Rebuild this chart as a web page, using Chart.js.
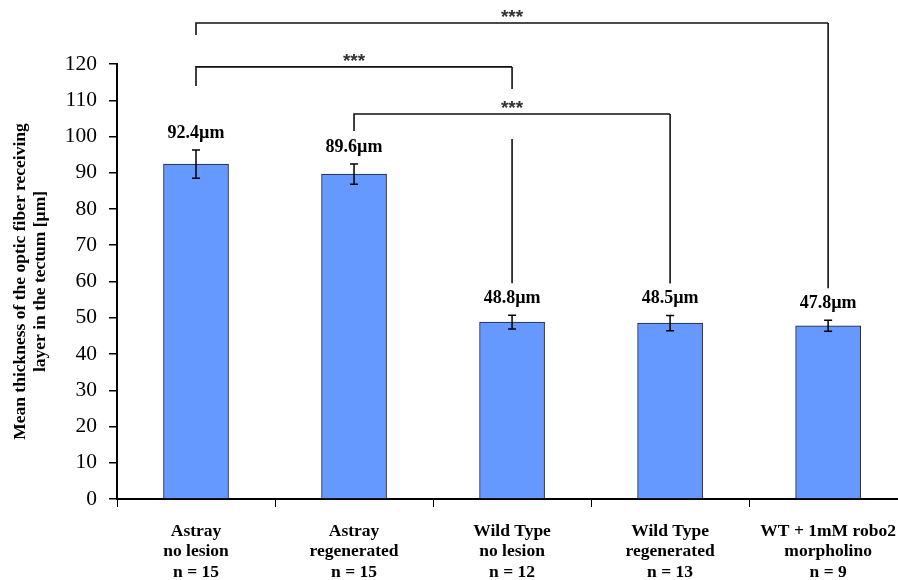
<!DOCTYPE html>
<html>
<head>
<meta charset="utf-8">
<script src="https://cdn.jsdelivr.net/npm/chart.js@4/dist/chart.umd.min.js"></script>
<style>
  html, body { margin: 0; padding: 0; background: #fff; overflow: hidden; width: 898px; height: 580px; }
  canvas { display: block; }
</style>
</head>
<body>
<canvas id="chart" width="910" height="580"></canvas>
<script>
// Groups on the x axis (one array per label line)
const groupNames = [
  ["Astray", "no lesion", "n = 15"],
  ["Astray", "regenerated", "n = 15"],
  ["Wild Type", "no lesion", "n = 12"],
  ["Wild Type", "regenerated", "n = 13"],
  ["WT + 1mM robo2", "morpholino", "n = 9"]
];
// Mean thickness (µm) and error bar half-lengths
const meanThickness = [92.4, 89.6, 48.8, 48.5, 47.8];
const errorSize = [3.9, 2.8, 1.9, 2.1, 1.5];
// Pairwise comparisons: bar indices, bracket height (axis units), mark
const comparisonFrom = [0, 0, 1];
const comparisonTo = [4, 2, 3];
const comparisonLevel = [131.3, 119.2, 106.2];
const comparisonMark = ["***", "***", "***"];
const comparisonLeftDrop = [12, 19, 17];
// Value axis
const yMin = 0, yMax = 120, yStep = 10;

const SERIF = '"Liberation Serif", "Times New Roman", serif';

const annotations = {
  id: 'annotations',
  afterDatasetsDraw(chart) {
    const { ctx, scales: { x, y } } = chart;
    ctx.save();
    const labelY = [];
    // error bars + value labels
    meanThickness.forEach((v, i) => {
      const cx = x.getPixelForValue(i);
      const top = y.getPixelForValue(v + errorSize[i]);
      const bot = y.getPixelForValue(v - errorSize[i]);
      ctx.strokeStyle = '#000';
      ctx.lineWidth = 1.5;
      ctx.beginPath();
      ctx.moveTo(cx, top); ctx.lineTo(cx, bot);
      ctx.moveTo(cx - 4, top); ctx.lineTo(cx + 4, top);
      ctx.moveTo(cx - 4, bot); ctx.lineTo(cx + 4, bot);
      ctx.stroke();
      const ly = top - 17;
      labelY.push(ly);
      ctx.fillStyle = '#000';
      ctx.font = 'bold 18px ' + SERIF;
      ctx.textAlign = 'center';
      ctx.textBaseline = 'middle';
      ctx.fillText(v.toFixed(1) + 'µm', cx, ly);
    });
    // significance brackets
    const lineYs = comparisonLevel.map(l => y.getPixelForValue(l));
    const xs0 = comparisonFrom.map(i => x.getPixelForValue(i));
    const xs1 = comparisonTo.map(i => x.getPixelForValue(i));
    ctx.strokeStyle = '#111';
    ctx.lineWidth = 1.6;
    comparisonFrom.forEach((f, k) => {
      const ly = lineYs[k], x0 = xs0[k], x1 = xs1[k];
      ctx.beginPath();
      ctx.moveTo(x0, ly + comparisonLeftDrop[k]);
      ctx.lineTo(x0, ly);
      ctx.lineTo(x1, ly);
      ctx.stroke();
      // right leg runs down to the value label, broken where a lower bracket crosses
      const end = labelY[comparisonTo[k]] - 15;
      let segs = [[ly, end]];
      comparisonFrom.forEach((g, m) => {
        if (m === k) return;
        if (lineYs[m] > ly && xs0[m] < x1 && xs1[m] > x1) {
          const g0 = lineYs[m] - 25, g1 = lineYs[m] + 25;
          segs = segs.flatMap(([a, b]) => {
            const out = [];
            if (g0 > a) out.push([a, Math.min(b, g0)]);
            if (g1 < b) out.push([Math.max(a, g1), b]);
            return out;
          });
        }
      });
      ctx.beginPath();
      segs.forEach(([a, b]) => { ctx.moveTo(x1, a); ctx.lineTo(x1, b); });
      ctx.stroke();
      ctx.fillStyle = '#333';
      ctx.font = 'bold 19px "Liberation Sans", Arial, sans-serif';
      ctx.textAlign = 'center';
      ctx.textBaseline = 'alphabetic';
      ctx.fillText(comparisonMark[k], (x0 + x1) / 2, ly);
    });
    ctx.restore();
  }
};

new Chart(document.getElementById('chart'), {
  type: 'bar',
  data: {
    labels: groupNames,
    datasets: [{
      data: meanThickness,
      backgroundColor: '#6699FF',
      borderColor: '#1c1c2c',
      borderWidth: 1,
      barThickness: 65
    }]
  },
  options: {
    responsive: false,
    animation: false,
    devicePixelRatio: 1,
    layout: { padding: { top: 64, left: 10, right: 1, bottom: 0 } },
    plugins: { legend: { display: false }, tooltip: { enabled: false } },
    scales: {
      x: {
        ticks: {
          color: '#000',
          font: { family: SERIF, size: 17.5, weight: 'bold', lineHeight: 1.17 },
          padding: 14,
          maxRotation: 0,
          autoSkip: false
        },
        grid: { drawOnChartArea: false, drawTicks: true, tickLength: 8, color: '#000', lineWidth: 1, offset: true },
        border: { display: true, color: '#000', width: 2 },
        afterFit(s) { s.height = 81; }
      },
      y: {
        min: yMin,
        max: yMax,
        ticks: { stepSize: yStep, color: '#000', font: { family: SERIF, size: 21.5 }, padding: 12 },
        grid: { drawOnChartArea: false, drawTicks: true, tickLength: 8, color: '#000', lineWidth: 1.5 },
        border: { display: true, color: '#000', width: 2 },
        title: {
          display: true,
          text: ['Mean thickness of the optic fiber receiving', 'layer in the tectum [µm]'],
          color: '#000',
          font: { family: SERIF, size: 17.5, weight: 'bold', lineHeight: 1.15 },
          padding: { top: 0, bottom: 0 }
        },
        afterFit(s) { s.width = 107; }
      }
    }
  },
  plugins: [annotations]
});
</script>
</body>
</html>
